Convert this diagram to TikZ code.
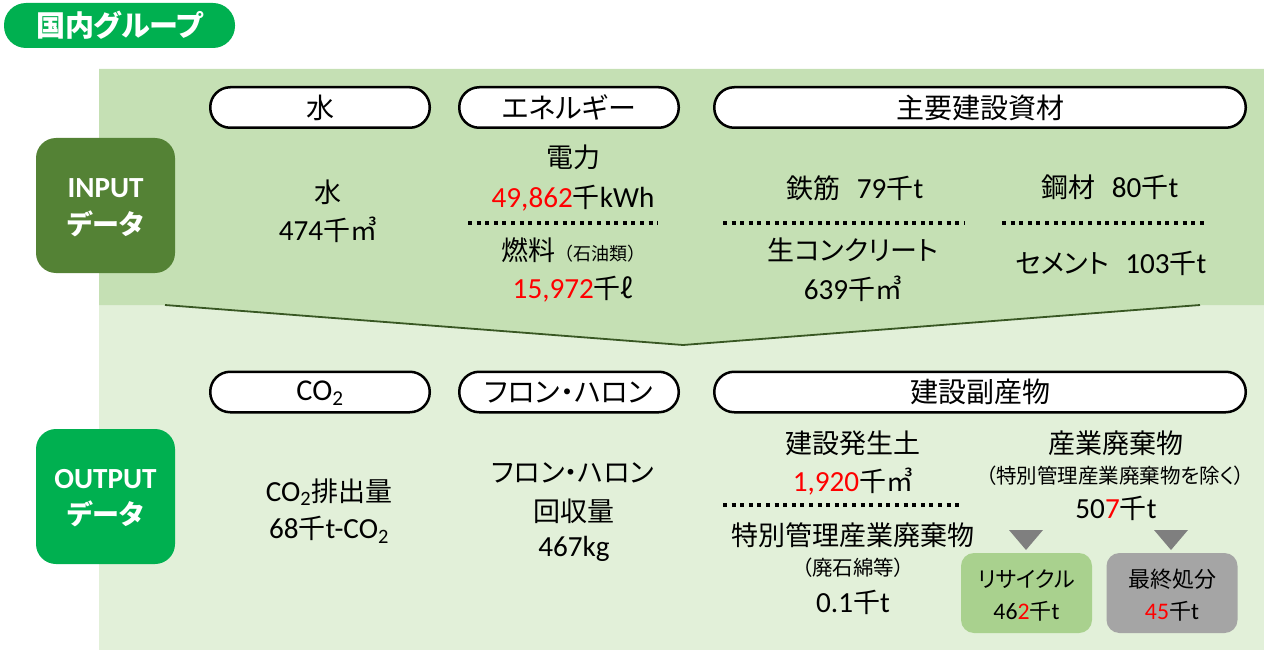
\documentclass[tikz,border=0pt]{standalone}
\usepackage{fontspec}
\setmainfont{Carlito}[Scale=1.08]
\newfontfamily\jp{Noto Sans CJK JP}[RawFeature=+palt]
\newfontfamily\jpn{Noto Sans CJK JP}
\definecolor{titlegreen}{HTML}{00B050}
\definecolor{ingreen}{HTML}{548235}
\definecolor{inbg}{HTML}{C5E0B4}
\definecolor{outbg}{HTML}{E2F0D9}
\definecolor{chev}{HTML}{385723}
\definecolor{recyc}{HTML}{A9D18E}
\definecolor{finalg}{HTML}{A5A5A5}
\definecolor{trig}{HTML}{7F7F7F}
\newcommand{\lt}[1]{{\rmfamily #1}}
\newcommand{\rd}[1]{\textcolor{red}{\rmfamily #1}}
\newcommand{\sm}[1]{{\jpn\fontsize{18}{22}\selectfont #1}}
\begin{document}
\begin{tikzpicture}[x=1pt,y=-1pt,
  txt/.style={inner sep=0pt, font=\jp\fontsize{27}{32}\selectfont, execute at begin node={\vphantom{国}}},
  small/.style={inner sep=0pt, font=\jp\fontsize{20.5}{24}\selectfont, execute at begin node={\vphantom{国}}},
  boxtxt/.style={inner sep=0pt, font=\jp\fontsize{22}{26}\selectfont, execute at begin node={\vphantom{国}}},
  wtxt/.style={inner sep=0pt, text=white, font=\jp\bfseries\fontsize{27}{32}\selectfont, execute at begin node={\vphantom{国}}},
  pill/.style={draw=black, line width=2.5pt, fill=white, rounded corners=20pt, minimum height=40.5pt, inner sep=0pt, font=\jp\fontsize{28}{32}\selectfont, execute at begin node={\vphantom{国}}},
  sidebox/.style={rounded corners=20pt, minimum width=139pt, minimum height=135pt, inner sep=0pt},
  resbox/.style={rounded corners=13pt, minimum width=131pt, minimum height=80pt, inner sep=0pt},
  sepline/.style={line width=3.5pt, dash pattern=on 4pt off 4.6pt},
]
\useasboundingbox (0,0) rectangle (1264,650);
% backgrounds
\fill[outbg] (99,305) rectangle (1264,650);
\fill[inbg] (99,69) -- (1264,69) -- (1264,305) -- (1200,305) -- (683,345) -- (165,305) -- (99,305) -- cycle;
\coordinate (cl) at (165,305);
\coordinate (cm) at (683,345);
\coordinate (cr) at (1200,305);
\draw[chev, line width=1.8pt] (cl) -- (cm) -- (cr);

% title
\node[fill=titlegreen, rounded corners=22pt, minimum width=231pt, minimum height=45pt, inner sep=0pt, text=white, font=\jp\bfseries\fontsize{29}{32}\selectfont] (title) at (119.5,25.5) {国内グループ};

% side boxes
\node[sidebox, fill=ingreen] (inbox) at (105.5,205.5) {};
\node[wtxt] (inl1) at (105.5,188) {\lt{INPUT}};
\node[wtxt] (inl2) at (105.5,224) {データ};
\node[sidebox, fill=titlegreen] (outbox) at (105.5,496.5) {};
\node[wtxt] (outl1) at (105.5,479) {\lt{OUTPUT}};
\node[wtxt] (outl2) at (105.5,514) {データ};

% input headers
\node[pill, minimum width=219.5pt] (hwater) at (320,107.5) {水};
\node[pill, minimum width=219.5pt] (henergy) at (569,107.5) {エネルギー};
\node[pill, minimum width=531.5pt] (hmat) at (980,107.5) {主要建設資材};

% input contents
\node[txt] (w1) at (328,192) {水};
\node[txt] (w2) at (328,230) {\lt{474}千㎥};

\node[txt] (e1) at (573,157) {電力};
\node[txt] (e2) at (573,198) {\rd{49,862}千\lt{kWh}};
\coordinate (d1a) at (468,223);
\coordinate (d1b) at (658,223);
\draw[sepline] (d1a) -- (d1b);
\node[txt] (e3) at (573,250) {燃料\sm{（石油類）}};
\node[txt] (e4) at (573,289) {\rd{15,972}千ℓ};

\node[txt] (m1) at (855,188) {鉄筋\hspace{0.6em}\lt{79}千\lt{t}};
\coordinate (d2a) at (723,223);
\coordinate (d2b) at (964,223);
\draw[sepline] (d2a) -- (d2b);
\node[txt] (m2) at (853,250) {生コンクリート};
\node[txt] (m3) at (853,289) {\lt{639}千㎥};

\node[txt] (m4) at (1110,187) {鋼材\hspace{0.6em}\lt{80}千\lt{t}};
\coordinate (d3a) at (1002,223);
\coordinate (d3b) at (1205,223);
\draw[sepline] (d3a) -- (d3b);
\node[txt] (m5) at (1111,263) {セメント\hspace{0.6em}\lt{103}千\lt{t}};

% output headers
\node[pill, minimum width=219.5pt] (hco) at (320,392) {\lt{CO\textsubscript{2}}};
\node[pill, minimum width=219.5pt] (hfl) at (569,392) {フロン・ハロン};
\node[pill, minimum width=531.5pt] (hby) at (980,392) {建設副産物};

% output contents
\node[txt] (c1) at (329,492) {\lt{CO\textsubscript{2}}排出量};
\node[txt] (c2) at (329,530) {\lt{68}千\lt{t-CO\textsubscript{2}}};

\node[txt] (f1) at (573,473) {フロン・ハロン};
\node[txt] (f2) at (574,511) {回収量};
\node[txt] (f3) at (574,548) {\lt{467kg}};

\node[txt] (b1) at (853,443) {建設発生土};
\node[txt] (b2) at (853,482) {\rd{1,920}千㎥};
\coordinate (d4a) at (723,505);
\coordinate (d4b) at (963,505);
\draw[sepline] (d4a) -- (d4b);
\node[txt] (b3) at (853,535) {特別管理産業廃棄物};
\node[small] (b4) at (853,568) {（廃石綿等）};
\node[txt] (b5) at (853,602) {\lt{0.1}千\lt{t}};

\node[txt] (p1) at (1116,443) {産業廃棄物};
\node[small] (p2) at (1115,476) {（特別管理産業廃棄物を除く）};
\node[txt] (p3) at (1116,508) {\lt{50}\rd{7}千\lt{t}};

% triangles
\fill[trig] (1009,530) -- (1043,530) -- (1026,550) -- cycle;
\fill[trig] (1154,530) -- (1188,530) -- (1171,550) -- cycle;

% result boxes
\node[resbox, fill=recyc] (rbox) at (1026.5,593) {};
\node[boxtxt] (r1) at (1026.5,579) {リサイクル};
\node[boxtxt] (r2) at (1026.5,611) {\lt{46}\rd{2}千\lt{t}};
\node[resbox, fill=finalg] (fbox) at (1172,593) {};
\node[boxtxt] (fi1) at (1172,579) {最終処分};
\node[boxtxt] (fi2) at (1172,611) {\rd{45}千\lt{t}};
\end{tikzpicture}
\end{document}
